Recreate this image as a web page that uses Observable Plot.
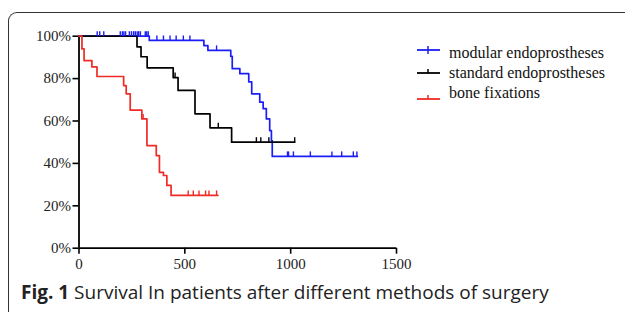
<!DOCTYPE html>
<html>
<head>
<meta charset="utf-8">
<script src="https://cdn.jsdelivr.net/npm/d3@7"></script>
<script src="https://cdn.jsdelivr.net/npm/@observablehq/plot@0.6"></script>
<style>
  html, body { margin: 0; padding: 0; background: #fff; }
  #wrap { position: relative; width: 625px; height: 312px; overflow: hidden; }
  #frame { position: absolute; left: 8px; top: 12px; width: 640px; height: 340px;
           border-top: 1.5px solid #333; border-left: 1.5px solid #333; border-top-left-radius: 9px; }
  #chart { position: absolute; left: 0; top: 0; }
  #legend { position: absolute; left: 414px; top: 43px; font-family: "Liberation Serif", serif;
            font-size: 16px; color: #111; }
  .item { position: relative; height: 20px; line-height: 20px; padding-left: 35px; white-space: nowrap; }
  .item svg { position: absolute; left: 2px; }
  #caption { position: absolute; left: 21px; top: 283px; font-family: "Open Sans", sans-serif;
             font-size: 19px; line-height: 19px; color: #222; white-space: nowrap; }
  #caption b { font-weight: 700; }
</style>
</head>
<body>
<div id="wrap">
  <div id="frame"></div>
  <div id="chart"></div>
  <div id="legend"></div>
  <div id="caption"><b>Fig. 1</b> Survival In patients after different methods of surgery</div>
</div>
<script>
// Series names and colours
const seriesNames = ["modular endoprostheses", "standard endoprostheses", "bone fixations"];
const seriesColors = ["#1c1ff5", "#000000", "#ee2b26"];

// modular endoprostheses (days, survival)
const modularT = [0, 332, 590, 609, 717, 724, 760, 802, 816, 854, 870, 885, 901, 909, 913, 1315];
const modularS = [1.00, 0.98, 0.956, 0.933, 0.905, 0.847, 0.823, 0.785, 0.728, 0.689, 0.658, 0.61, 0.555, 0.508, 0.433, 0.433];
const modularCensor = [86, 98, 117, 195, 205, 212, 220, 238, 248, 258, 266, 275, 282, 290, 313, 320, 327,
                       368, 399, 430, 459, 493, 524, 650, 985, 990, 1013, 1093, 1195, 1241, 1296, 1313];

// standard endoprostheses
const standardT = [0, 274, 293, 322, 445, 468, 548, 619, 721, 1019];
const standardS = [1.00, 0.95, 0.903, 0.851, 0.805, 0.744, 0.634, 0.568, 0.50, 0.50];
const standardCensor = [454, 658, 838, 859, 897, 1019];

// bone fixations
const boneT = [0, 14, 24, 61, 85, 211, 223, 242, 297, 321, 365, 380, 399, 415, 435, 656];
const boneS = [1.00, 0.94, 0.885, 0.855, 0.81, 0.767, 0.728, 0.651, 0.61, 0.484, 0.437, 0.358, 0.343, 0.296, 0.249, 0.249];
const boneCensor = [303, 516, 540, 567, 598, 614, 650];

// Axis ticks
const xTicks = [0, 500, 1000, 1500];
const yTicks = [0, 0.2, 0.4, 0.6, 0.8, 1.0];

const curves = [[modularT, modularS, modularCensor], [standardT, standardS, standardCensor], [boneT, boneS, boneCensor]];

const lineData = [];
const censorData = [];
curves.forEach(([T, S, C], i) => {
  T.forEach((t, j) => lineData.push({series: seriesNames[i], t, s: S[j]}));
  C.forEach(t => {
    let s = S[0];
    for (let j = 0; j < T.length; j++) if (T[j] <= t) s = S[j];
    censorData.push({series: seriesNames[i], t, s});
  });
});

const tickSymbol = { draw(ctx, size) { ctx.moveTo(0, 0); ctx.lineTo(0, -5); } };

const plot = Plot.plot({
  width: 625,
  height: 282,
  marginLeft: 78.5,
  marginRight: 229,
  marginTop: 35.7,
  marginBottom: 34.3,
  style: { fontFamily: "Liberation Serif, serif", fontSize: "15px", color: "#222", background: "transparent" },
  x: { domain: [0, 1500] },
  y: { domain: [0, 1] },
  color: { domain: seriesNames, range: seriesColors },
  marks: [
    Plot.axisY({ ticks: yTicks, tickFormat: d3.format(".0%"), tickSize: 6, tickPadding: 2, strokeWidth: 1.6, stroke: "#000", label: null, fontSize: 15 }),
    Plot.axisX({ ticks: xTicks, tickFormat: d => String(d), tickSize: 6, tickPadding: 4, strokeWidth: 1.6, stroke: "#000", label: null, fontSize: 15 }),
    Plot.ruleX([0], { y1: 0, y2: 1, stroke: "#000", strokeWidth: 1.8 }),
    Plot.ruleY([0], { x1: 0, x2: 1500, stroke: "#000", strokeWidth: 1.8 }),
    Plot.line(lineData, { x: "t", y: "s", z: "series", stroke: "series", curve: "step-after", strokeWidth: 1.7 }),
    Plot.dot(censorData, { x: "t", y: "s", stroke: "series", symbol: tickSymbol, strokeWidth: 1.4, fill: "none" })
  ]
});
document.getElementById("chart").appendChild(plot);

// Legend
const legend = document.getElementById("legend");
const markerTop = [2, 5, 11];
seriesNames.forEach((name, i) => {
  const div = document.createElement("div");
  div.className = "item";
  const c = seriesColors[i];
  const cross = i === 0 ? `<line x1="12" y1="1" x2="12" y2="9" stroke="${c}" stroke-width="1.5"/>`
                        : `<line x1="12" y1="1" x2="12" y2="5" stroke="${c}" stroke-width="1.5"/>`;
  div.innerHTML = `<svg width="26" height="10" style="top:${markerTop[i]}px"><line x1="1" y1="5" x2="24" y2="5" stroke="${c}" stroke-width="1.8"/>${cross}</svg>${name}`;
  legend.appendChild(div);
});
</script>
</body>
</html>
